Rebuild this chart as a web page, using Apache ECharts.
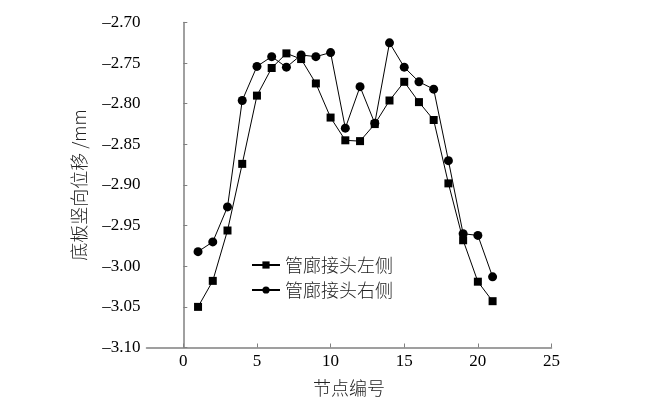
<!DOCTYPE html>
<html>
<head>
<meta charset="utf-8">
<script src="https://cdn.jsdelivr.net/npm/echarts@6/dist/echarts.min.js"></script>
<style>
  html, body { margin: 0; padding: 0; background: #fff; }
  #chart { width: 669px; height: 398px; }
</style>
</head>
<body>
<div id="chart"></div>
<script>
var nodes = [1, 2, 3, 4, 5, 6, 7, 8, 9, 10, 11, 12, 13, 14, 15, 16, 17, 18, 19, 20, 21];
var leftSide = [-3.050, -3.018, -2.956, -2.874, -2.790, -2.756, -2.738, -2.745, -2.775, -2.817, -2.845,
  -2.846, -2.825, -2.796, -2.773, -2.798, -2.820, -2.898, -2.968, -3.019, -3.043];
var rightSide = [-2.982, -2.970, -2.927, -2.796, -2.754, -2.742, -2.755, -2.740, -2.742, -2.737, -2.830,
  -2.779, -2.824, -2.725, -2.755, -2.773, -2.782, -2.870, -2.960, -2.962, -3.013];
var xTicks = [0, 5, 10, 15, 20, 25];
var seriesNames = ['管廊接头左侧', '管廊接头右侧'];

(function() {
  var serif = 'serif';
  var cjk = 'Noto Sans CJK SC';
  var axisColor = '#808080';
  var ink = '#000';

  function pairs(vals) {
    return nodes.map(function(n, i) { return [n, vals[i]]; });
  }

  var chart = echarts.init(document.getElementById('chart'), null, { renderer: 'canvas' });
  chart.setOption({
    animation: false,
    backgroundColor: '#fff',
    grid: { left: 146.5, right: 117.5, top: 22.5, bottom: 50.5, outerBoundsMode: 'none' },
    legend: {
      orient: 'vertical',
      left: 246,
      top: 251,
      itemWidth: 28,
      itemHeight: 9,
      itemGap: 7,
      data: seriesNames,
      textStyle: { color: '#222', fontSize: 18, fontFamily: cjk, fontWeight: 300 }
    },
    xAxis: {
      type: 'value',
      min: -2.5,
      max: 25,
      name: '节点编号',
      nameLocation: 'middle',
      nameGap: 32,
      nameTextStyle: { color: '#222', fontSize: 18, fontFamily: cjk, fontWeight: 300 },
      axisLine: { lineStyle: { color: axisColor, width: 1.5 } },
      axisTick: { inside: true, length: 4, customValues: xTicks, lineStyle: { color: axisColor } },
      axisLabel: { customValues: xTicks, color: ink, fontSize: 17, fontFamily: serif, margin: 6 },
      splitLine: { show: false }
    },
    yAxis: {
      type: 'value',
      min: -3.10,
      max: -2.70,
      interval: 0.05,
      name: '底板竖向位移 /mm',
      nameLocation: 'middle',
      nameGap: 58,
      nameTextStyle: { color: '#222', fontSize: 18, fontFamily: cjk, fontWeight: 300 },
      axisLine: { show: true, lineStyle: { color: axisColor, width: 1.5 } },
      axisTick: { show: true, inside: true, length: 4, lineStyle: { color: axisColor } },
      axisLabel: {
        color: ink, fontSize: 17, fontFamily: serif, margin: 6,
        formatter: function(v) { return '\u2013' + Math.abs(v).toFixed(2); }
      },
      splitLine: { show: false }
    },
    series: [
      {
        name: seriesNames[0],
        type: 'line',
        data: pairs(leftSide),
        symbol: 'rect',
        symbolSize: 8,
        lineStyle: { color: '#000', width: 1 },
        itemStyle: { color: '#000' }
      },
      {
        name: seriesNames[1],
        type: 'line',
        data: pairs(rightSide),
        symbol: 'circle',
        symbolSize: 9,
        lineStyle: { color: '#000', width: 1 },
        itemStyle: { color: '#000' }
      }
    ]
  });
})();
</script>
</body>
</html>
